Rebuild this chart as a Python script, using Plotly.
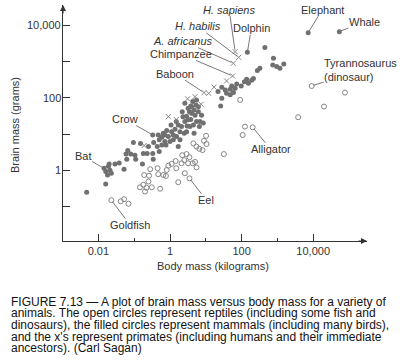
import numpy as np
import plotly.graph_objects as go

# ---------------- data ----------------
# Mammals (filled circles): body mass (kg), brain mass (g)
mammal_body = [0.0047, 0.016, 0.016, 0.019, 0.021, 0.018, 0.023, 0.020, 0.029, 0.038,
               0.052, 0.062, 0.059, 0.066, 0.080, 0.095, 0.105, 0.11, 0.15, 0.17,
               0.23, 0.25, 0.33, 0.34, 0.35, 0.44, 0.50, 0.50, 0.65, 0.59,
               0.72, 0.81, 0.90, 1.0, 1.11, 1.24, 0.77, 1.38, 1.53, 1.9,
               2.1, 2.5, 1.7, 2.6, 2.9, 3.5, 3.8, 3.0, 4.0, 4.3,
               4.7, 5.0, 5.5, 4.5, 5.3, 6.2, 6.6, 3.8, 3.2, 2.3,
               7.6, 6.9, 1.24, 1.9, 2.9, 3.6, 4.0, 3.2, 5.5, 6.2,
               2.2, 2.6, 1.5, 1.07, 0.72, 0.47, 0.59, 1.7, 4.7, 8.5, 0.18,
               22, 28, 35, 28, 26, 38, 48, 53, 66, 59,
               73, 48, 120, 138, 155, 214, 276, 324, 191, 447,
               776, 741, 955, 1175, 1510, 98]
mammal_brain = [0.25, 0.42, 0.92, 1.3, 1.0, 0.74, 0.83, 1.5, 1.5, 1.6,
                1.07, 2.0, 2.8, 3.5, 2.8, 5.8, 2.6, 2.0, 5.5, 1.5,
                2.9, 4.5, 2.9, 2.0, 5.8, 4.5, 3.3, 6.9, 10.5, 8.1,
                6.2, 12.4, 8.5, 6.2, 11.6, 9.4, 5.0, 13.5, 8.5, 11.6,
                16, 10.5, 17.8, 22, 31, 41, 25, 16.6, 56, 78,
                46, 33, 22, 17.8, 63, 41, 16, 59, 24.5, 30,
                33, 22, 6.9, 6.9, 11.6, 16, 37, 51, 87, 56,
                41, 70, 22, 17.8, 9.4, 9.4, 5.0, 4.5, 10.5, 20, 2.9,
                148, 195, 162, 96, 59, 132, 170, 209, 182, 138,
                240, 120, 276, 324, 251, 339, 562, 646, 302, 2400,
                1230, 794, 724, 646, 851, 209]

# Reptiles / fish (open circles)
reptile_body = [0.042, 0.052, 0.069, 0.145, 0.18, 0.20, 0.22, 0.31, 0.19, 0.26,
                0.28, 0.25, 0.45, 0.53, 0.47, 0.65, 0.77, 0.81, 0.90, 1.11,
                1.44, 1.7, 1.5, 2.1, 2.2, 2.5, 2.9, 2.6, 3.2, 3.5,
                4.3, 5.0, 5.5, 4.5, 5.5, 6.6, 8.1, 8.9, 10.2, 10.5,
                32, 91, 124, 107, 3800, 20000, 77000]
reptile_brain = [0.14, 0.16, 0.12, 0.34, 0.40, 0.26, 0.33, 0.34, 0.74, 0.71,
                 1.07, 0.49, 1.14, 0.31, 0.78, 0.74, 0.70, 1.02, 1.34, 1.5,
                 1.8, 0.47, 1.14, 1.56, 2.6, 1.9, 2.8, 0.83, 1.56, 2.3,
                 1.56, 1.7, 1.2, 5.5, 4.5, 3.9, 3.6, 6.5, 8.9, 5.3,
                 2.8, 87, 16, 9.4, 29, 57, 138]

# Primates (x's)
primate_body = [38, 17, 12, 5.0, 3.1, 7.4, 1.5, 0.9, 0.19]
primate_brain = [290, 195, 132, 107, 93, 66, 25, 30, 4.8]

# Labelled animals
label_names = ["H. sapiens", "H. habilis", "A. africanus", "Chimpanzee", "Baboon",
               "Crow", "Bat", "Goldfish", "Eel", "Alligator", "Dolphin",
               "Elephant", "Whale", "Tyrannosaurus<br>(dinosaur)"]
label_group = ["primate", "primate", "primate", "primate", "primate",
               "mammal", "mammal", "reptile", "reptile", "reptile", "mammal",
               "mammal", "mammal", "reptile"]
label_body = [66, 83, 59, 56, 8.9, 0.33, 0.0144, 0.023, 3.5, 204, 145, 7240, 53700, 9100]
label_brain = [1860, 1290, 890, 398, 138, 9.4, 1.13, 0.15, 0.60, 15.3, 1780, 6170, 6610, 210]

x_tickvals = [0.01, 1, 100, 10000]
x_ticktext = ["0.01", "1", "100", "10,000"]
x_minor = [0.1, 10, 1000]
y_tickvals = [1, 100, 10000]
y_ticktext = ["1", "100", "10,000"]
y_minor = [0.1, 10, 1000]

caption_lines = [
    "FIGURE 7.13 \u2014 A plot of brain mass versus body mass for a variety of",
    "animals. The open circles represent reptiles (including some fish and",
    "dinosaurs), the filled circles represent mammals (including many birds),",
    "and the x's represent primates (including humans and their immediate",
    "ancestors). (Carl Sagan)",
]

# ---------------- styling / layout ----------------
FONT = "Liberation Sans, Arial, Helvetica, sans-serif"
TXT = "#333333"
PT = "#707070"
OPEN = "#858585"

# label text offsets (px) from the labelled point
label_offsets = {
    "H. sapiens": (-6, -42, "italic"),
    "H. habilis": (-41, -31, "italic"),
    "A. africanus": (-50, -22, "italic"),
    "Chimpanzee": (-52, -22, "normal"),
    "Baboon": (-29, -19, "normal"),
    "Crow": (-28, -16, "normal"),
    "Bat": (-21, -12, "normal"),
    "Goldfish": (19, 25, "normal"),
    "Eel": (17, 22, "normal"),
    "Alligator": (18, 22, "normal"),
    "Dolphin": (4, -24, "normal"),
    "Elephant": (14, -23, "normal"),
    "Whale": (25, -10, "normal"),
    "Tyrannosaurus<br>(dinosaur)": (49, -16, "normal"),
}

mb = mammal_body + [b for b, g in zip(label_body, label_group) if g == "mammal"]
mg = mammal_brain + [v for v, g in zip(label_brain, label_group) if g == "mammal"]
rb = reptile_body + [b for b, g in zip(label_body, label_group) if g == "reptile"]
rg = reptile_brain + [v for v, g in zip(label_brain, label_group) if g == "reptile"]
pb = primate_body + [b for b, g in zip(label_body, label_group) if g == "primate"]
pg = primate_brain + [v for v, g in zip(label_brain, label_group) if g == "primate"]

fig = go.Figure()
fig.add_trace(go.Scatter(x=rb, y=rg, mode="markers", name="Reptiles",
                         marker=dict(symbol="circle-open", size=5, color=OPEN,
                                     line=dict(width=1, color=OPEN))))
fig.add_trace(go.Scatter(x=mb, y=mg, mode="markers", name="Mammals",
                         marker=dict(symbol="circle", size=5, color=PT)))
fig.add_trace(go.Scatter(x=pb, y=pg, mode="markers", name="Primates",
                         marker=dict(symbol="x-thin-open", size=5, color=OPEN,
                                     line=dict(width=1, color=OPEN))))

annotations = []
for name, b, v in zip(label_names, label_body, label_brain):
    ax, ay, style = label_offsets[name]
    txt = f"<i>{name}</i>" if style == "italic" else name
    annotations.append(dict(
        x=np.log10(b), y=np.log10(v), xref="x", yref="y", text=txt,
        showarrow=True, arrowhead=0, arrowwidth=0.8, arrowcolor="#555555",
        standoff=2, ax=ax, ay=ay, align="left", borderpad=0,
        font=dict(family=FONT, size=11, color=TXT)))

# axis arrowheads
annotations.append(dict(x=1, y=0, xref="paper", yref="paper", ax=-10, ay=0,
                        showarrow=True, arrowhead=2, arrowsize=1, arrowwidth=1.2,
                        arrowcolor="#333333", text=""))
annotations.append(dict(x=0, y=1, xref="paper", yref="paper", ax=0, ay=10,
                        showarrow=True, arrowhead=2, arrowsize=1, arrowwidth=1.2,
                        arrowcolor="#333333", text=""))

L, R, T, B = 63, 33, 5, 120
pw, ph = 400 - L - R, 361 - T - B

def px_x(px):
    return (px - L) / pw

def px_y(py):
    return (361 - B - py) / ph

# y tick labels placed close to the axis line (as in the reference)
for val, lab in zip(y_tickvals, y_ticktext):
    annotations.append(dict(x=px_x(61.5), y=np.log10(val), xref="paper", yref="y",
                            xanchor="right", yanchor="middle", text=lab, showarrow=False,
                            borderpad=0, font=dict(family=FONT, size=11, color=TXT)))

# axis titles
annotations.append(dict(x=px_x(15), y=px_y(125), xref="paper", yref="paper",
                        xanchor="center", yanchor="middle",
                        text="Brain mass (grams)", textangle=-90, showarrow=False,
                        font=dict(family=FONT, size=11, color=TXT)))
annotations.append(dict(x=px_x(212.5), y=px_y(265.5), xref="paper", yref="paper",
                        xanchor="center", yanchor="middle",
                        text="Body mass (kilograms)", showarrow=False,
                        font=dict(family=FONT, size=11, color=TXT)))

# caption
cap_y = [301.7, 313.3, 325.3, 336.7, 348.3]
for line, py in zip(caption_lines, cap_y):
    annotations.append(dict(x=px_x(9.5), y=px_y(py), xref="paper", yref="paper",
                            xanchor="left", yanchor="middle", text=line, showarrow=False,
                            borderpad=0, font=dict(family=FONT, size=12, color="#111111")))

axis_common = dict(type="log", showgrid=False, zeroline=False, showline=True,
                   linecolor="#333333", linewidth=1.2, ticks="inside", tickcolor="#333333",
                   tickfont=dict(family=FONT, size=11, color=TXT))

fig.update_layout(
    width=400, height=361, margin=dict(l=L, r=R, t=T, b=B),
    paper_bgcolor="white", plot_bgcolor="white", showlegend=False,
    xaxis=dict(**axis_common, range=[-2.989, 5.503], tickvals=x_tickvals, ticktext=x_ticktext,
               ticklen=7, tickwidth=1,
               minor=dict(tickvals=x_minor, ticks="inside", ticklen=3, tickcolor="#333333")),
    yaxis=dict(**axis_common, range=[-1.948, 4.554], tickvals=y_tickvals, ticktext=y_ticktext,
               showticklabels=False, ticklen=7, tickwidth=1,
               minor=dict(tickvals=y_minor, ticks="inside", ticklen=7, tickcolor="#333333")),
    annotations=annotations,
)

fig.write_html("out.html", config={"displayModeBar": False},
               post_script="document.body.style.margin='0px';")
